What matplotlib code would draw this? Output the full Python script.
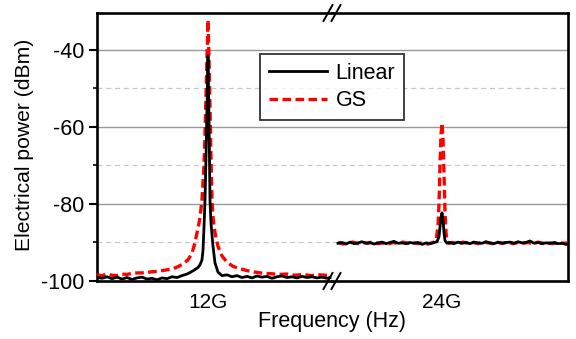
import matplotlib
matplotlib.use("Agg")
import matplotlib.pyplot as plt
from matplotlib.lines import Line2D
from matplotlib.ticker import FixedLocator

plt.rcParams['font.family'] = ['Liberation Sans', 'DejaVu Sans']

# ---------------- data ----------------
series_names = ["Linear", "GS"]
tick_labels_left = ["12G"]
tick_labels_right = ["24G"]
tick_pos_left = [12.0]
tick_pos_right = [24.0]

# Left segment (around 12 GHz), frequency in GHz, power in dBm
lin_l_x = [11.889, 11.894, 11.899, 11.904, 11.909, 11.914, 11.919, 11.924, 11.929, 11.934,
           11.939, 11.944, 11.949, 11.954, 11.959, 11.964, 11.969, 11.974, 11.979, 11.982,
           11.986, 11.990, 11.992, 11.994, 11.995, 11.996, 11.997, 11.998, 11.999, 12.000,
           12.001, 12.002, 12.003, 12.004, 12.005, 12.007, 12.010, 12.014, 12.019, 12.024,
           12.029, 12.034, 12.039, 12.044, 12.049, 12.054, 12.059, 12.064, 12.069, 12.074,
           12.079, 12.084, 12.089, 12.094, 12.099, 12.104, 12.109, 12.114, 12.119, 12.122]
lin_l_y = [-99.0, -99.3, -98.9, -99.4, -99.0, -99.5, -99.1, -99.6, -99.2, -99.0,
           -99.5, -99.3, -99.7, -99.2, -99.4, -98.9, -99.1, -98.6, -98.2, -97.8,
           -97.2, -96.5, -95.8, -94.5, -92.0, -86.0, -79.0, -68.0, -55.0, -41.5,
           -58.0, -79.0, -85.0, -88.0, -91.0, -95.3, -97.7, -98.6, -98.4, -98.9,
           -98.6, -99.1, -98.8, -99.2, -98.7, -99.0, -98.8, -99.3, -98.9, -98.7,
           -99.1, -98.9, -99.2, -98.8, -99.1, -98.9, -99.2, -99.0, -99.3, -99.1]

gs_l_x = [11.889, 11.894, 11.899, 11.904, 11.909, 11.914, 11.919, 11.924, 11.929, 11.934,
          11.939, 11.944, 11.949, 11.954, 11.959, 11.964, 11.969, 11.975, 11.980, 11.984,
          11.987, 11.989, 11.991, 11.992, 11.994, 11.996, 11.997, 11.998, 11.999, 12.000,
          12.001, 12.002, 12.003, 12.004, 12.005, 12.007, 12.010, 12.014, 12.019, 12.025,
          12.032, 12.039, 12.047, 12.055, 12.063, 12.071, 12.079, 12.087, 12.095, 12.103,
          12.111, 12.118, 12.122]
gs_l_y = [-98.4, -98.6, -98.2, -98.5, -98.6, -98.2, -98.3, -98.0, -97.9, -97.9,
          -97.8, -97.6, -97.5, -97.3, -97.1, -96.9, -96.4, -95.6, -94.5, -92.8,
          -90.0, -87.5, -85.0, -83.4, -79.0, -70.0, -62.0, -52.0, -42.0, -32.2,
          -42.0, -55.0, -68.0, -79.0, -83.5, -87.5, -91.0, -93.5, -95.1, -96.2,
          -96.8, -97.3, -97.7, -98.0, -98.1, -98.3, -98.2, -98.5, -98.3, -98.6,
          -98.4, -98.5, -98.4]

# Right segment (around 24 GHz)
lin_r_x = [23.896, 23.900, 23.904, 23.908, 23.912, 23.916, 23.920, 23.924, 23.928, 23.932,
           23.936, 23.940, 23.944, 23.948, 23.952, 23.956, 23.960, 23.964, 23.968, 23.972,
           23.976, 23.980, 23.984, 23.988, 23.992,
           23.995, 23.997, 23.998, 23.999, 24.000, 24.001, 24.002, 24.003, 24.005,
           24.008, 24.012, 24.016, 24.020, 24.024, 24.028, 24.032, 24.036, 24.040, 24.044,
           24.048, 24.052, 24.056, 24.060, 24.064, 24.068, 24.072, 24.076, 24.080, 24.084,
           24.088, 24.092, 24.096, 24.100, 24.104, 24.108, 24.112, 24.116, 24.120, 24.124,
           24.126]
lin_r_y = [-90.2, -90.0, -90.4, -89.9, -90.3, -90.1, -89.8, -90.2, -90.0, -90.4,
           -90.1, -89.9, -90.3, -90.0, -89.7, -90.2, -90.1, -90.3, -90.0, -90.2,
           -90.0, -90.5, -90.1, -90.3, -90.0,
           -89.8, -88.5, -86.0, -83.5, -82.3, -84.0, -87.5, -89.5, -90.2,
           -90.0, -90.3, -89.9, -90.2, -90.0, -90.3, -89.9, -90.1, -90.2, -89.8,
           -90.1, -90.3, -89.9, -90.2, -90.0, -89.9, -90.2, -89.8, -90.1, -90.0,
           -89.6, -90.2, -90.0, -90.3, -90.1, -90.2, -90.0, -90.3, -90.2, -90.5,
           -90.4]

gs_r_x = [23.896, 23.901, 23.906, 23.911, 23.916, 23.921, 23.926, 23.931, 23.936, 23.941,
          23.946, 23.951, 23.956, 23.961, 23.966, 23.971, 23.976, 23.981, 23.986, 23.991,
          23.994, 23.996, 23.997, 23.998, 23.999, 24.000, 24.001, 24.002, 24.003, 24.004,
          24.005, 24.007,
          24.011, 24.016, 24.021, 24.026, 24.031, 24.036, 24.041, 24.046, 24.051, 24.056,
          24.061, 24.066, 24.071, 24.076, 24.081, 24.086, 24.091, 24.096, 24.101, 24.106,
          24.111, 24.116, 24.121, 24.126]
gs_r_y = [-90.0, -90.4, -90.1, -89.9, -90.3, -90.0, -90.2, -89.8, -90.3, -90.1,
          -90.4, -90.0, -90.3, -89.9, -90.2, -90.0, -90.3, -90.1, -90.4, -90.0,
          -89.5, -86.0, -80.0, -70.0, -62.0, -59.0, -63.0, -72.0, -82.0, -87.5,
          -89.6, -90.2,
          -90.0, -90.3, -89.9, -90.2, -90.0, -90.3, -89.8, -90.1, -90.3, -90.0,
          -90.2, -89.9, -90.3, -90.0, -90.2, -90.0, -90.3, -89.9, -90.2, -90.1,
          -90.3, -90.0, -90.2, -90.1]

y_major = [-100, -80, -60, -40]
y_minor = [-90, -70, -50]

# ---------------- figure ----------------
W, H = 576, 339
fig = plt.figure(figsize=(W / 100, H / 100), dpi=100)

x0, xb, x1 = 97, 332, 568
ytop, ybot = 13, 281
axl = fig.add_axes([x0 / W, 1 - ybot / H, (xb - x0) / W, (ybot - ytop) / H])
axr = fig.add_axes([xb / W, 1 - ybot / H, (x1 - xb) / W, (ybot - ytop) / H])

lin_kw = dict(color='black', lw=2.0, solid_joinstyle='round')
gs_kw = dict(color='#ff0000', lw=2.4, dashes=(2.6, 1.3))

hl, = axl.plot(lin_l_x, lin_l_y, label=series_names[0], **lin_kw, zorder=4)
hg, = axl.plot(gs_l_x, gs_l_y, label=series_names[1], **gs_kw, zorder=3)
axr.plot(lin_r_x, lin_r_y, **lin_kw, zorder=4)
axr.plot(gs_r_x, gs_r_y, **gs_kw, zorder=3)

axl.set_xlim(11.889, 12.124)
axr.set_xlim(23.890, 24.126)
for ax in (axl, axr):
    ax.set_ylim(-100, -30.4)
    ax.yaxis.set_major_locator(FixedLocator(y_major))
    ax.yaxis.set_minor_locator(FixedLocator(y_minor))
    ax.grid(which='major', axis='y', color='#999999', lw=1.0, zorder=0)
    ax.grid(which='minor', axis='y', color='#c8c8c8', lw=0.9, ls=(0, (4, 3)), zorder=0)
    ax.set_axisbelow(True)
    for s in ax.spines.values():
        s.set_linewidth(1.9)
    ax.tick_params(axis='x', length=0, pad=9, labelsize=15)

axl.spines['right'].set_visible(False)
axr.spines['left'].set_visible(False)

axl.set_xticks(tick_pos_left)
axl.set_xticklabels(tick_labels_left)
axr.set_xticks(tick_pos_right)
axr.set_xticklabels(tick_labels_right)

axl.set_yticks(y_major)
axl.set_yticklabels([str(v) for v in y_major])
axl.tick_params(axis='y', which='major', direction='out', length=6, width=1.5,
                labelsize=15.5, pad=3)
axl.tick_params(axis='y', which='minor', direction='out', length=3, width=1.2)
axr.tick_params(axis='y', which='both', length=0, labelleft=False)

# axis labels
fig.text(xb / W, 1 - 322 / H, "Frequency (Hz)", ha='center', va='center', fontsize=15.5)
fig.text(25 / W, 1 - 145 / H, "Electrical power (dBm)", ha='center', va='center',
         rotation=90, fontsize=15.2)

# break marks
for yy in (ytop, ybot):
    for dx in (-4, 4):
        xa = xb + dx - 4.5
        xc = xb + dx + 4.5
        fig.add_artist(Line2D([xa / W, xc / W], [1 - (yy + 8) / H, 1 - (yy - 8) / H],
                              transform=fig.transFigure, color='black', lw=1.4))

# legend
leg = fig.legend(handles=[hl, hg], loc='center', bbox_to_anchor=(332 / W, 1 - 87 / H),
                 fontsize=15.5, frameon=True, fancybox=False, handlelength=2.7,
                 handletextpad=0.4, borderpad=0.4, labelspacing=0.3, borderaxespad=0)
leg.get_frame().set_edgecolor('black')
leg.get_frame().set_linewidth(1.3)

fig.savefig("out.png", dpi=100)
